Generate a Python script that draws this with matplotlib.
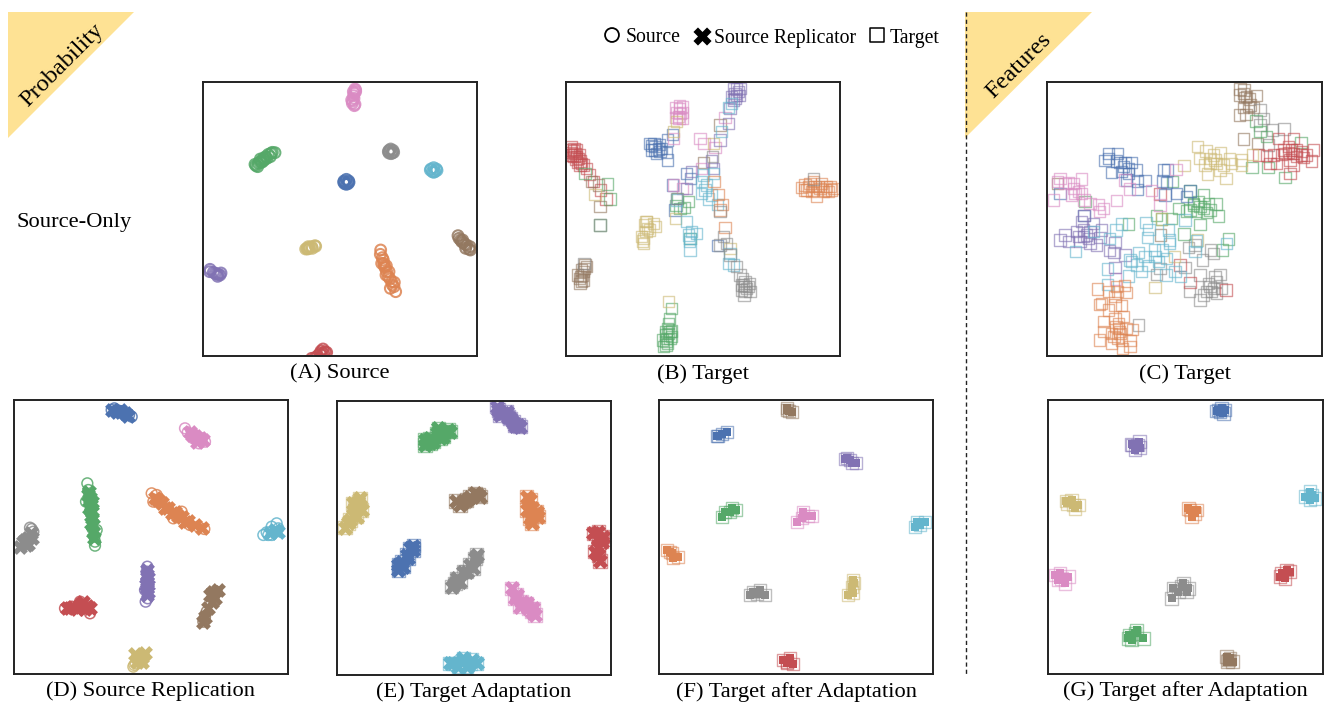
import matplotlib
matplotlib.use("Agg")
import matplotlib.pyplot as plt
from matplotlib.patches import Polygon

plt.rcParams['font.family'] = ['Liberation Serif', 'DejaVu Serif']

blue = '#4c72b0'
orange = '#dd8452'
green = '#55a868'
red = '#c44e52'
purple = '#8172b3'
brown = '#937860'
pink = '#da8bc3'
gray = '#8c8c8c'
olive = '#ccb974'
cyan = '#64b5cd'

# all points are read off the picture, in units of 1/3 pixel from the crop corner
# panel A, source
a_pink = [(480,42),(478,55),(477,70),(473,78),(478,92),(482,45),(476,62),(472,85),(482,50),(475,50),(480,88),(470,75)]
a_gray = [(587,222),(594,226),(582,226),(592,234),(582,234),(588,236),(580,230),(596,232)]
a_cyan = [(716,278),(708,282),(724,282),(712,290),(720,290),(726,286),(706,285),(716,292)]
a_blue = [(454,313),(447,318),(461,318),(449,326),(459,326),(454,328),(446,322),(462,322)]
a_green = [(183,272),(190,265),(198,258),(205,250),(212,245),(220,238),(228,235),(240,233),(232,232),(195,262),(210,252),(200,262),(188,275),(205,258),(216,250),(226,245),(180,268),(196,252)]
a_olive = [(336,520),(342,520),(350,515),(360,512),(345,517),(338,522),(332,522),(352,520),(362,514),(340,515)]
a_orange = [(557,525),(562,548),(566,565),(570,578),(575,590),(580,605),(590,620),(597,635),(602,650),(568,572),(585,612),(565,555),(573,600),(592,630),(556,538),(574,572),(582,590),(598,622),(560,565),(586,640)]
a_brown = [(789,482),(797,495),(805,503),(815,510),(822,522),(826,525),(810,508),(800,500),(792,490),(812,520),(825,515),(803,495)]
a_purple = [(45,583),(55,592),(65,597),(75,600),(60,595),(70,598),(44,590),(78,594),(68,604)]
a_red = [(384,822),(390,830),(375,835),(395,832),(360,848),(380,840),(368,842),(385,835),(378,828),(350,850)]

# panel B, target before adaptation
b_red = [(40,228),(45,235),(38,240),(50,245),(55,250),(42,222),(60,258),(65,265),(48,252),(35,232),(80,280),(88,298),(100,320),(122,345),(138,372),(30,225),(58,240),(42,245),(52,262),(30,240),(70,270),(35,215),(50,225),(60,270)]
b_green = [(75,295),(142,327),(150,372),(120,450),(318,800),(320,790),(325,775),(318,810),(328,730),(325,745),(335,700),(322,805),(330,770),(335,768),(322,760),(352,370),(385,380),(360,400),(348,392),(372,398),(390,490),(308,795),(330,790),(318,770),(310,815),(335,785),(318,780)]
b_brown = [(65,618),(70,590),(62,605),(68,600),(75,570),(58,610),(72,580),(120,395),(115,330),(95,320),(430,262),(480,150),(52,600),(80,575),(60,625),(70,615),(65,585)]
b_blue = [(285,215),(275,212),(295,222),(290,235),(282,205),(300,230),(322,255),(320,232),(338,178),(322,195),(338,330),(345,405),(472,512),(380,295),(392,310),(270,205),(285,225),(298,208),(275,225),(305,220)]
b_pink = [(358,100),(360,115),(357,130),(358,92),(420,190),(432,205),(465,218),(495,128),(340,190),(355,125),(368,340),(340,330),(425,280),(348,98),(368,95),(350,112),(368,112),(348,128),(368,130)]
b_olive = [(350,140),(340,170),(347,430),(260,440),(262,460),(250,490),(258,470),(280,445),(248,498),(460,205),(325,680),(510,520),(105,358),(245,485),(258,440),(250,505),(268,465),(285,455),(255,450)]
b_purple = [(530,42),(525,55),(530,62),(520,75),(535,50),(505,145),(480,195),(395,290),(380,340),(455,258),(460,280),(510,100),(520,40),(540,40),(515,65),(538,62),(525,70)]
b_cyan = [(505,98),(515,85),(485,170),(390,490),(395,470),(410,475),(390,525),(380,440),(425,320),(440,330),(425,355),(445,372),(472,388),(510,535),(505,565),(520,570),(430,300),(460,295),(350,375),(388,500),(385,480),(435,345),(455,360)]
b_orange = [(735,330),(750,325),(765,335),(780,340),(800,335),(815,345),(760,320),(790,350),(740,345),(770,365),(810,335),(725,338),(760,345),(462,320),(475,358),(488,388),(495,457),(480,405),(745,335),(755,350),(775,335),(795,345),(820,340),(735,345),(785,325),(805,350)]
b_gray = [(760,312),(555,620),(560,640),(550,630),(555,650),(565,635),(548,610),(540,600),(530,575),(490,485),(500,505),(480,510),(510,540),(480,410),(458,245),(120,450),(72,565),(350,370),(545,630),(570,650),(545,645),(568,625),(555,635),(552,660)]

# panel C, target features
c_brown = [(600,42),(612,45),(598,60),(620,65),(628,72),(610,55),(650,62),(625,95),(610,98),(640,98),(598,120),(618,118),(610,192),(652,205),(52,325),(362,480),(615,68),(632,90)]
c_gray = [(660,105),(670,130),(660,150),(697,165),(732,162),(480,600),(525,605),(540,598),(505,625),(520,640),(530,655),(490,660),(480,675),(500,650),(448,650),(530,620),(295,750),(445,518),(465,510),(512,525),(487,555),(520,535),(350,598),(360,580),(435,578),(685,210),(515,650),(510,635),(545,640)]
c_green = [(648,138),(660,170),(680,185),(783,202),(636,278),(684,278),(735,308),(450,348),(490,360),(460,385),(480,395),(505,385),(528,387),(415,400),(440,408),(470,410),(500,412),(535,423),(480,448),(432,477),(350,422),(397,320),(265,447),(135,380),(548,525),(565,492),(365,432),(395,430),(460,390),(510,405),(475,380),(490,400),(450,405)]
c_red = [(715,190),(760,190),(745,215),(730,225),(760,235),(785,230),(820,225),(815,258),(770,245),(750,255),(700,240),(680,242),(655,240),(690,265),(760,270),(750,295),(785,240),(800,240),(735,235),(558,645),(450,622),(420,570),(360,357),(710,265),(745,232),(770,225),(725,238),(790,248),(755,225)]
c_olive = [(472,215),(498,228),(542,232),(478,250),(510,250),(495,270),(530,265),(550,270),(502,297),(558,310),(568,252),(605,255),(605,270),(432,272),(638,238),(520,240),(540,285),(345,638),(472,495),(403,545),(365,432),(575,265),(525,255),(510,265)]
c_blue = [(205,235),(233,235),(195,257),(230,258),(255,262),(275,262),(215,292),(245,290),(265,295),(290,285),(260,315),(292,318),(315,316),(292,343),(370,285),(382,285),(368,318),(380,322),(375,360),(410,355),(450,348),(60,355),(132,422),(440,365),(250,275),(265,280),(240,262),(205,250)]
c_pink = [(60,310),(52,320),(125,312),(85,322),(100,340),(105,355),(95,360),(125,355),(40,375),(132,375),(150,385),(175,388),(178,410),(230,377),(268,342),(255,315),(335,347),(360,390),(408,283),(227,612),(190,400),(75,325),(100,325),(115,350)]
c_purple = [(132,422),(125,440),(160,445),(110,470),(130,465),(150,470),(75,480),(60,495),(85,500),(120,500),(140,480),(170,510),(150,505),(185,465),(225,502),(208,527),(222,533),(255,540),(225,578),(180,487),(130,485),(115,485),(145,490)]
c_cyan = [(107,530),(160,470),(228,465),(245,447),(318,443),(327,463),(322,487),(208,490),(388,495),(388,505),(295,532),(270,555),(275,560),(343,525),(368,525),(315,545),(345,545),(380,550),(305,590),(325,572),(265,603),(203,582),(378,600),(405,590),(422,605),(203,628),(465,530),(560,505),(470,498),(435,435),(385,465),(290,570),(355,560)]
c_orange = [(172,642),(205,650),(230,635),(253,632),(258,652),(178,688),(185,686),(225,690),(245,692),(205,705),(250,725),(190,740),(225,730),(235,745),(258,760),(278,763),(192,770),(215,775),(240,775),(178,795),(215,805),(245,795),(270,797),(248,820),(270,815),(235,760),(232,790),(225,665),(238,770),(228,755),(222,785),(232,650)]

# panel D, source replication: circles and filled crosses
d_blue = [(320,45),(335,45),(350,50),(365,55),(380,65),(345,48),(328,40),(372,60)]
d_blue_x = [(322,45),(335,50),(348,52),(360,55),(345,45),(368,62)]
d_pink = [(540,100),(548,112),(560,118),(575,125),(590,135),(600,140),(582,145),(565,130)]
d_pink_x = [(555,110),(570,122),(585,130),(575,140),(595,135),(560,120),(578,132)]
d_green = [(247,265),(250,285),(243,320),(255,350),(262,400),(270,440),(270,452),(268,425),(275,405)]
d_green_x = [(252,290),(255,310),(258,330),(260,350),(262,370),(265,390),(265,410),(268,430),(250,300),(262,320),(258,385),(252,340)]
d_orange = [(440,295),(455,300),(445,320),(505,370),(530,350),(555,390),(598,402),(580,395),(470,320)]
d_orange_x = [(450,310),(470,325),(490,340),(510,352),(530,365),(550,378),(570,390),(590,400),(460,315),(500,355),(540,380),(480,338),(520,362)]
d_gray = [(80,402),(75,398),(85,410)]
d_gray_x = [(78,415),(68,428),(55,440),(70,448),(45,455),(60,435),(80,430),(62,450)]
d_cyan = [(815,385),(800,395),(785,412),(775,420),(820,400),(800,420),(790,420)]
d_cyan_x = [(810,405),(795,415),(818,410)]
d_purple = [(427,515),(425,530),(428,610),(422,620),(425,555),(420,585),(430,570)]
d_purple_x = [(427,540),(427,560),(425,580),(425,600),(422,570),(430,590),(425,525),(430,550)]
d_red = [(180,640),(225,620),(255,655),(200,635),(240,630)]
d_red_x = [(185,638),(205,635),(225,630),(245,632),(255,640),(215,642),(235,622),(195,640),(240,642)]
d_brown = [(595,680),(605,650),(635,590),(600,665)]
d_brown_x = [(625,590),(615,600),(620,620),(630,610),(610,640),(600,665),(595,680),(640,585)]
d_olive = [(388,810),(385,815),(392,805)]
d_olive_x = [(390,778),(400,790),(412,800),(420,775),(410,785),(395,800)]

# panel E, target adaptation: squares and filled crosses
e_purple = [(505,45),(520,55),(535,65),(550,80),(565,90),(510,60),(540,70),(570,95),(500,35),(530,50),(555,92)]
e_green = [(285,150),(300,130),(320,115),(345,110),(355,105),(285,135),(330,130),(310,140),(360,110),(325,100),(300,145),(340,125)]
e_olive = [(45,398),(70,360),(85,320),(75,340),(60,375),(90,310),(55,385),(95,345),(68,325),(80,365)]
e_brown = [(378,318),(400,320),(420,305),(445,300),(435,295),(450,305),(390,330),(410,315)]
e_orange = [(600,315),(605,340),(610,360),(605,385),(590,305),(620,350),(600,370),(625,365),(590,345)]
e_red = [(805,410),(805,430),(805,455),(805,480),(810,498),(815,440),(795,470),(790,415),(818,425)]
e_blue = [(240,460),(230,480),(215,500),(205,525),(250,465),(220,515),(235,490),(250,452),(205,510)]
e_gray = [(435,490),(420,510),(400,530),(380,550),(365,575),(430,520),(410,530),(390,560),(375,565),(440,480)]
e_pink = [(545,580),(560,600),(575,620),(595,640),(615,660),(555,610),(590,625),(605,650),(570,635),(610,640)]
e_cyan = [(370,805),(395,800),(420,805),(440,805),(385,815),(410,815),(360,805),(400,790),(425,795)]

# panel F, target after adaptation
f_blue = [(205,122),(215,118),(230,110),(200,124)]
f_brown = [(412,45),(418,48),(410,40),(425,50)]
f_purple = [(590,190),(600,195),(618,205),(605,205),(585,192)]
f_green = [(215,365),(225,352),(240,350),(258,345),(245,340)]
f_pink = [(440,382),(455,368),(475,362),(485,362),(460,350)]
f_cyan = [(795,397),(810,390),(825,380),(800,380)]
f_orange = [(50,465),(65,475),(85,485),(70,490),(60,470)]
f_gray = [(300,600),(320,598),(345,600),(310,590),(330,585)]
f_olive = [(610,555),(605,575),(595,600),(610,595),(612,565)]
f_red = [(398,795),(412,805),(428,808),(420,790),(410,800)]

# panel G, features after adaptation
g_blue = [(540,50),(535,45),(550,55),(545,40),(530,48),(555,45)]
g_purple = [(278,150),(292,150),(285,165),(298,140),(275,148),(300,158)]
g_olive = [(82,325),(100,330),(115,330),(95,315),(105,340),(78,318)]
g_orange = [(450,345),(465,355),(455,365),(470,345),(445,340)]
g_cyan = [(795,305),(815,300),(825,310),(810,315),(810,290)]
g_pink = [(45,540),(65,550),(75,565),(85,545),(60,535),(55,555)]
g_red = [(725,535),(740,525),(735,550),(750,530),(720,545)]
g_gray = [(400,580),(425,575),(440,590),(395,610),(430,565),(445,580),(415,590)]
g_green = [(268,720),(285,715),(310,730),(275,735),(290,705),(265,730)]
g_brown = [(565,795),(570,790),(562,800),(578,800),(560,785)]

W, H = 1325, 702
fig = plt.figure(figsize=(W/100, H/100), dpi=100)


def panel(left, top, right, bottom, ox, oy):
    ax = fig.add_axes([left/W, 1-bottom/H, (right-left)/W, (bottom-top)/H])
    ax.set_xlim((left-ox)*3, (right-ox)*3)
    ax.set_ylim((bottom-oy)*3, (top-oy)*3)
    ax.set_xticks([])
    ax.set_yticks([])
    for s in ax.spines.values():
        s.set_linewidth(1.4)
        s.set_color('#222222')
    return ax


def hollow(ax, pts, col, marker='s', size=64, alpha=0.6, lw=1.0):
    x, y = zip(*pts)
    ax.scatter(x, y, s=size, marker=marker, facecolors='none', edgecolors=col, alpha=alpha, linewidths=lw)


def solid(ax, pts, col, marker='X', size=115):
    x, y = zip(*pts)
    ax.scatter(x, y, s=size, marker=marker, color=col, linewidths=0)


ax_a = panel(203.3, 81.7, 477.3, 355.7, 195, 75)
for pts, col in [(a_pink, pink), (a_gray, gray), (a_cyan, cyan), (a_blue, blue), (a_green, green),
                 (a_olive, olive), (a_orange, orange), (a_brown, brown), (a_purple, purple), (a_red, red)]:
    hollow(ax_a, pts, col, marker='o', size=60, alpha=0.85, lw=1.5)

ax_b = panel(566.3, 82.3, 840, 356, 560, 75)
for pts, col in [(b_red, red), (b_green, green), (b_brown, brown), (b_blue, blue), (b_pink, pink),
                 (b_olive, olive), (b_purple, purple), (b_cyan, cyan), (b_orange, orange), (b_gray, gray)]:
    hollow(ax_b, pts, col)

ax_c = panel(1047.3, 81.7, 1321.7, 355.7, 1040, 75)
for pts, col in [(c_brown, brown), (c_gray, gray), (c_green, green), (c_red, red), (c_olive, olive),
                 (c_blue, blue), (c_pink, pink), (c_purple, purple), (c_cyan, cyan), (c_orange, orange)]:
    hollow(ax_c, pts, col)

ax_d = panel(13.7, 400, 288, 673.7, 5, 395)
for pts, pts_x, col in [(d_blue, d_blue_x, blue), (d_pink, d_pink_x, pink), (d_green, d_green_x, green),
                        (d_orange, d_orange_x, orange), (d_gray, d_gray_x, gray), (d_cyan, d_cyan_x, cyan),
                        (d_purple, d_purple_x, purple), (d_red, d_red_x, red), (d_brown, d_brown_x, brown),
                        (d_olive, d_olive_x, olive)]:
    hollow(ax_d, pts, col, marker='o', size=60, alpha=0.85, lw=1.1)
    solid(ax_d, pts_x, col)

ax_e = panel(337, 401, 611.3, 674.7, 330, 395)
for pts, col in [(e_purple, purple), (e_green, green), (e_olive, olive), (e_brown, brown), (e_orange, orange),
                 (e_red, red), (e_blue, blue), (e_gray, gray), (e_pink, pink), (e_cyan, cyan)]:
    hollow(ax_e, pts, col, size=90, alpha=0.6)
    solid(ax_e, pts, col, size=120)

ax_f = panel(659, 400, 933.3, 673.7, 650, 395)
for pts, col in [(f_blue, blue), (f_brown, brown), (f_purple, purple), (f_green, green), (f_pink, pink),
                 (f_cyan, cyan), (f_orange, orange), (f_gray, gray), (f_olive, olive), (f_red, red)]:
    hollow(ax_f, pts, col, size=76, alpha=0.55)
    solid(ax_f, pts, col, marker='s', size=38)

ax_g = panel(1048.3, 399.7, 1323, 673.7, 1040, 395)
for pts, col in [(g_blue, blue), (g_purple, purple), (g_olive, olive), (g_orange, orange), (g_cyan, cyan),
                 (g_pink, pink), (g_red, red), (g_gray, gray), (g_green, green), (g_brown, brown)]:
    hollow(ax_g, pts, col, size=80, alpha=0.55)
    solid(ax_g, pts, col, marker='s', size=38)

# everything around the panels goes on one overlay in pixel units
over = fig.add_axes([0, 0, 1, 1], zorder=5)
over.set_xlim(0, W)
over.set_ylim(H, 0)
over.axis('off')
over.patch.set_alpha(0)

over.add_patch(Polygon([(8, 12), (134, 12), (8, 138)], color='#fee294', lw=0))
over.add_patch(Polygon([(965, 12), (1092, 12), (965, 138)], color='#fee294', lw=0))
over.text(62, 65, 'Probability', rotation=45, fontsize=17.6, ha='center', va='center', rotation_mode='anchor')
over.text(1019, 66, 'Features', rotation=45, fontsize=17.6, ha='center', va='center', rotation_mode='anchor')
over.plot([966, 966], [12, 675], color='#222222', lw=1.0, ls=(0, (3, 2.2)))

over.text(17, 222, 'Source-Only', fontsize=16.2, ha='left', va='center')
captions = ['(A) Source', '(B) Target', '(C) Target', '(D) Source Replication', '(E) Target Adaptation',
            '(F) Target after Adaptation', '(G) Target after Adaptation']
caption_x = [340, 703, 1185, 151, 474, 796, 1185]
caption_y = [374, 374, 374, 691, 692, 692, 691]
for t, x, y in zip(captions, caption_x, caption_y):
    over.text(x, y, t, fontsize=16.2, ha='center', va='center')

over.scatter([612], [35], s=100, marker='o', facecolors='none', edgecolors='black', linewidths=1.3)
over.scatter([702], [36], s=170, marker='X', color='black', linewidths=0)
over.scatter([877], [35], s=95, marker='s', facecolors='none', edgecolors='black', linewidths=1.1)
over.text(626, 38, 'Source', fontsize=14.2, ha='left', va='center')
over.text(714, 38, 'Source Replicator', fontsize=14.2, ha='left', va='center')
over.text(890, 38, 'Target', fontsize=14.2, ha='left', va='center')

fig.savefig('out.png', dpi=100)
